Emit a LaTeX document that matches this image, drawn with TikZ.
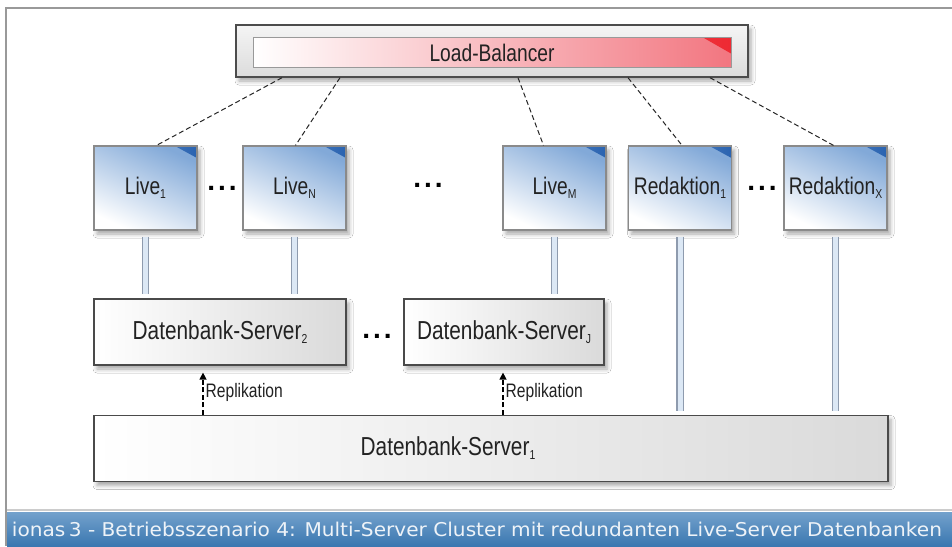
\documentclass[tikz,border=0pt]{standalone}
\usepackage{fontspec}
\setmainfont{Liberation Sans}
\newfontfamily\cond[FakeStretch=0.8]{Liberation Sans}
\newfontfamily\capfont{DejaVu Sans}
\usetikzlibrary{shadows.blur,arrows.meta,calc}
\definecolor{frameC}{HTML}{999999}
\definecolor{barTop}{HTML}{73A1CC}
\definecolor{barBot}{HTML}{3A77B0}
\definecolor{liveTop}{HTML}{82A9D8}
\definecolor{liveDark}{HTML}{2A63B0}
\definecolor{boxEdge}{HTML}{8A8A8A}
\definecolor{dbEdge}{HTML}{4A4A4A}
\definecolor{dbShade}{HTML}{DADADA}
\definecolor{lbRed}{HTML}{F27680}
\definecolor{lbDark}{HTML}{EE2A33}
\definecolor{pipeEdge}{HTML}{8E9BAE}
\definecolor{pipeFill}{HTML}{DCE8F5}
\definecolor{txt}{HTML}{222222}
\definecolor{capTxt}{HTML}{EEF3F8}
\newcommand{\sbs}[1]{\raisebox{-4pt}{\fontsize{13pt}{13pt}\selectfont #1}}
\tikzset{
  shad/.style={blur shadow={shadow xshift=3pt, shadow yshift=-4pt, shadow blur radius=4pt, shadow opacity=35}},
  livebox/.style={draw=boxEdge, line width=1.2pt, minimum width=103pt, minimum height=84pt, inner sep=0pt,
    top color=liveTop, bottom color=white, shading angle=-25, shad,
    path picture={\shade[left color=liveTop!85!liveDark, right color=liveDark]
      ([xshift=-22pt]path picture bounding box.north east) -- (path picture bounding box.north east)
      -- ([yshift=-12pt]path picture bounding box.north east) -- cycle;},
    font=\cond\fontsize{24pt}{28pt}\selectfont, text=txt},
  dbbox/.style={draw=dbEdge, line width=1.2pt, minimum height=66pt, inner sep=0pt,
    left color=white, right color=dbShade, shad,
    font=\cond\fontsize{26pt}{30pt}\selectfont, text=txt},
  dots/.style={font=\bfseries\fontsize{28pt}{30pt}\selectfont, text=black, inner sep=0pt},
  lbdash/.style={draw=black!85, line width=1pt, dash pattern=on 5pt off 3pt},
  pipe/.style={draw=pipeEdge, double=pipeFill, double distance=5pt, line width=1.3pt, shorten <=6pt, shorten >=4pt},
  repl/.style={draw=black, line width=1.3pt, dash pattern=on 5pt off 2.5pt, shorten >=7pt,
    -{Triangle[length=7pt,width=7pt]}},
  repllabel/.style={font=\cond\fontsize{19.5pt}{21pt}\selectfont, text=txt, inner sep=2pt},
}
\begin{document}
\begin{tikzpicture}[x=1pt,y=-1pt]
\useasboundingbox (0,0) rectangle (952,546);
\fill[white] (0,0) rectangle (952,546);
% frame
\fill[frameC] (5,7) rectangle (952,9);
\fill[frameC] (5,7) rectangle (7,546);
% bottom caption bar
\fill[black!20] (7,508.5) rectangle (952,511);
\shade[top color=barTop, bottom color=barBot] (7,512) rectangle (952,546);
\node[text=capTxt, inner sep=0pt] (caption) at (477,529) {\resizebox{930pt}{\height}{\capfont\fontsize{19pt}{22pt}\selectfont ionas\,3 - Betriebsszenario 4: Multi-Server Cluster mit redundanten Live-Server Datenbanken}};
% load balancer
\node[draw=black!70, line width=1.4pt, minimum width=512pt, minimum height=52pt, inner sep=0pt,
  top color=white!96!black, bottom color=black!14, shad] (lb) at (492,51) {};
\node[draw=black!40, line width=0.8pt, minimum width=478pt, minimum height=30pt, inner sep=0pt,
  left color=white, right color=lbRed,
  path picture={\shade[left color=lbRed, right color=lbDark]
      ([xshift=-28pt]path picture bounding box.north east) -- (path picture bounding box.north east)
      -- ([yshift=-16pt]path picture bounding box.north east) -- cycle;},
  font=\cond\fontsize{24pt}{28pt}\selectfont, text=txt] (lbin) at (492,52.5) {Load-Balancer};
% live and redaktion boxes
\node[livebox] (live1) at (145.5,188) {Live\sbs{1}};
\node[livebox] (liveN) at (294.5,188) {Live\sbs{N}};
\node[livebox] (liveM) at (554.5,188) {Live\sbs{M}};
\node[livebox] (red1) at (680,188) {Redaktion\sbs{1}};
\node[livebox] (redX) at (835.5,188) {Redaktion\sbs{X}};
\node[dots] (d1) at (222,188) {.\hspace{3pt}.\hspace{3pt}.};
\node[dots] (d2) at (428,185) {.\hspace{3pt}.\hspace{3pt}.};
\node[dots] (d3) at (762,188) {.\hspace{3pt}.\hspace{3pt}.};
% database servers
\node[dbbox, minimum width=252pt] (db2) at (220,332) {Datenbank-Server\sbs{2}};
\node[dbbox, minimum width=200pt] (dbJ) at (504,332) {Datenbank-Server\sbs{J}};
\node[dots] (d4) at (377,336) {.\hspace{3pt}.\hspace{3pt}.};
\node[dbbox, minimum width=794pt] (db1) at (491,448.5) {Datenbank-Server\sbs{1}\rule{86pt}{0pt}};
% dashed links from the load balancer
\draw[lbdash] ([xshift=-210pt]lb.south) -- ([xshift=11pt]live1.north);
\draw[lbdash] ([xshift=-152pt]lb.south) -- ([xshift=1pt]liveN.north);
\draw[lbdash] ([xshift=26pt]lb.south) -- ([xshift=-11pt]liveM.north);
\draw[lbdash] ([xshift=136pt]lb.south) -- ([xshift=2pt]red1.north);
\draw[lbdash] ([xshift=218pt]lb.south) -- ([xshift=-2pt]redX.north);
% pipes
\draw[pipe] (live1.south) -- (live1.south |- db2.north);
\draw[pipe] (liveN.south) -- (liveN.south |- db2.north);
\draw[pipe] (liveM.south) -- (liveM.south |- dbJ.north);
\draw[pipe] (red1.south) -- (red1.south |- db1.north);
\draw[pipe] (redX.south) -- (redX.south |- db1.north);
% replication
\draw[repl] ($(db2.south |- db1.north)+(-17,0)$) -- node[pos=0.45, anchor=west, repllabel] {Replikation} ($(db2.south)+(-17,0)$);
\draw[repl] ($(dbJ.south |- db1.north)+(-1,0)$) -- node[pos=0.45, anchor=west, repllabel] {Replikation} ($(dbJ.south)+(-1,0)$);
\end{tikzpicture}
\end{document}
